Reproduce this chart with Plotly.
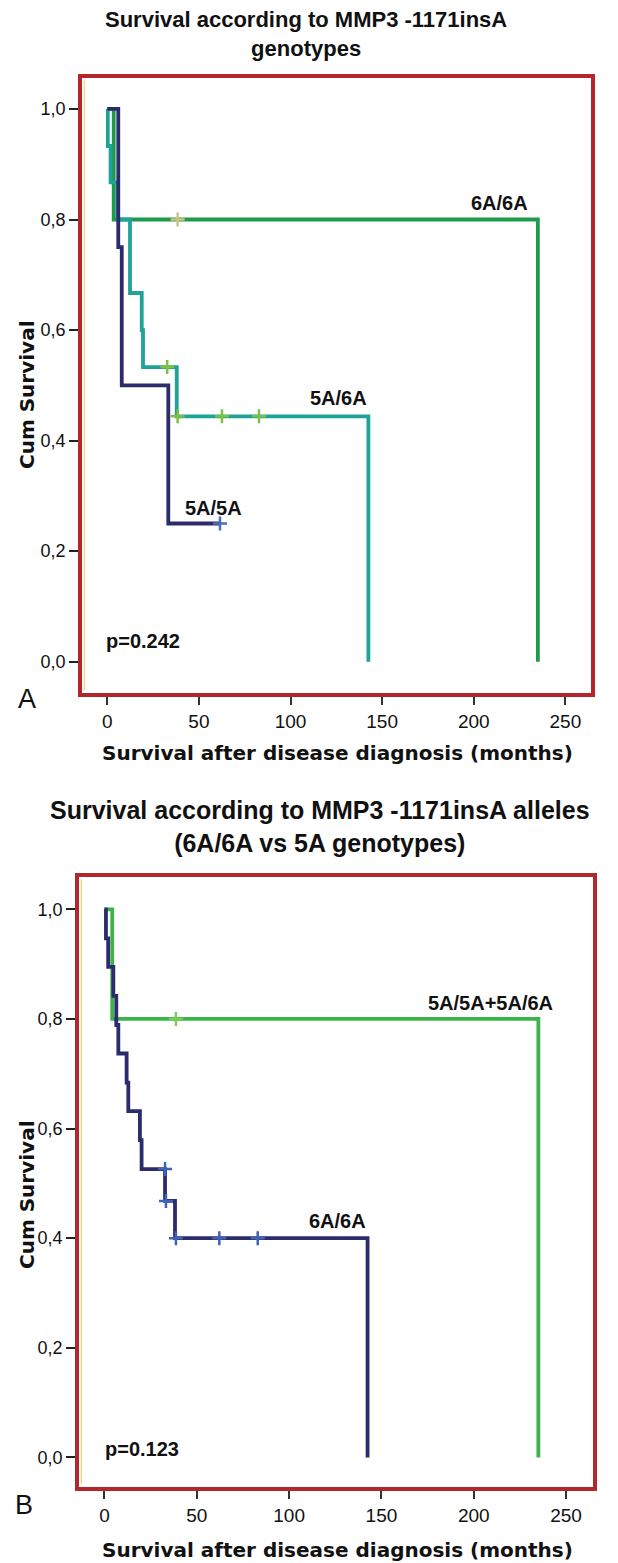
import plotly.graph_objects as go

# ---------------- data ----------------
# Panel A: MMP3 -1171insA genotypes
a_6a6a_t = [0, 3.5, 235]
a_6a6a_s = [1.0, 0.8, 0.0]
a_6a6a_cens_t = [38.4]
a_6a6a_cens_s = [0.8]

a_5a6a_t = [0, 0.3, 1.8, 5.5, 12.4, 18.8, 19.5, 37.9, 142.5]
a_5a6a_s = [1.0, 0.933, 0.867, 0.8, 0.667, 0.6, 0.533, 0.444, 0.0]
a_5a6a_cens_t = [32.7, 38.4, 62.6, 82.8]
a_5a6a_cens_s = [0.533, 0.444, 0.444, 0.444]

a_5a5a_t = [0, 6.0, 7.9, 33.3, 61.5]
a_5a5a_s = [1.0, 0.75, 0.5, 0.25, 0.25]
a_5a5a_cens_t = [61.5]
a_5a5a_cens_s = [0.25]

# Panel B: 6A/6A vs 5A genotypes
b_5a_t = [0, 4.2, 235]
b_5a_s = [1.0, 0.8, 0.0]
b_5a_cens_t = [38.7]
b_5a_cens_s = [0.8]

b_6a6a_t = [0, 0.8, 2.0, 4.8, 6.4, 7.5, 12.0, 12.9, 19.2, 20.1, 32.8, 38.2, 142.5]
b_6a6a_s = [1.0, 0.947, 0.895, 0.842, 0.789, 0.737, 0.684, 0.632, 0.579, 0.526, 0.468, 0.400, 0.0]
b_6a6a_cens_t = [32.8, 33.3, 38.7, 62.2, 83.0]
b_6a6a_cens_s = [0.526, 0.468, 0.4, 0.4, 0.4]

x_tickvals = [0, 50, 100, 150, 200, 250]
y_tickvals = [0.0, 0.2, 0.4, 0.6, 0.8, 1.0]
y_ticktext = ["0,0", "0,2", "0,4", "0,6", "0,8", "1,0"]

title_a = "Survival according to MMP3 -1171insA<br>genotypes"
title_b = "Survival according to MMP3 -1171insA alleles<br>(6A/6A vs 5A genotypes)"
x_title = "Survival after disease diagnosis (months)"
y_title = "Cum Survival"

# ---------------- styling ----------------
W, H = 618, 1563
FONT = "Liberation Sans, Arial, sans-serif"
WIDE = "DejaVu Sans, Verdana, sans-serif"
RED = "#b3262b"
GREEN_A = "#1f9a4a"
TEAL = "#1fa297"
NAVY = "#2c2b6c"
GREEN_B = "#3cb44a"


def px(x):
    return x / W


def py(y):
    return 1 - y / H


fig = go.Figure()


def step(xaxis, yaxis, t, s, color):
    fig.add_trace(go.Scatter(x=t, y=s, mode="lines", line=dict(color=color, width=3.8, shape="hv"),
                             xaxis=xaxis, yaxis=yaxis, showlegend=False, hoverinfo="skip"))


def cens(xaxis, yaxis, t, s, color):
    fig.add_trace(go.Scatter(x=t, y=s, mode="markers",
                             marker=dict(symbol="cross-thin", size=10, line=dict(color=color, width=2.5)),
                             xaxis=xaxis, yaxis=yaxis, showlegend=False, hoverinfo="skip"))


# Panel A (x, y)
step("x", "y", a_6a6a_t, a_6a6a_s, GREEN_A)
step("x", "y", a_5a6a_t, a_5a6a_s, TEAL)
step("x", "y", a_5a5a_t, a_5a5a_s, NAVY)
cens("x", "y", a_6a6a_cens_t, a_6a6a_cens_s, "#cfc48a")
cens("x", "y", a_5a6a_cens_t, a_5a6a_cens_s, "#7cc142")
cens("x", "y", a_5a5a_cens_t, a_5a5a_cens_s, "#4a6fb5")

# Panel B (x2, y2)
step("x2", "y2", b_5a_t, b_5a_s, GREEN_B)
step("x2", "y2", b_6a6a_t, b_6a6a_s, NAVY)
cens("x2", "y2", b_5a_cens_t, b_5a_cens_s, "#7ccc5b")
cens("x2", "y2", b_6a6a_cens_t, b_6a6a_cens_s, "#3d63b8")

common_x = dict(tickvals=x_tickvals, ticks="outside", ticklen=8, tickwidth=2, tickcolor="#333",
                showline=True, linecolor=RED, linewidth=3.5, mirror=True, showgrid=False,
                zeroline=False, tickfont=dict(family=FONT, size=19, color="#111"))
common_y = dict(tickvals=y_tickvals, ticktext=y_ticktext, ticks="outside", ticklen=9, tickwidth=2,
                tickcolor="#222", showline=True, linecolor=RED, linewidth=3.5, mirror=True,
                showgrid=False, zeroline=False, tickfont=dict(family=FONT, size=18, color="#111"))

fig.update_layout(
    width=W, height=H, margin=dict(l=0, r=0, t=0, b=0),
    paper_bgcolor="white", plot_bgcolor="white",
    xaxis=dict(domain=[px(82), px(591)], range=[-13.8, 264.0], anchor="y", **common_x),
    yaxis=dict(domain=[py(693), py(78)], range=[-0.0566, 1.056], anchor="x", **common_y),
    xaxis2=dict(domain=[px(79), px(593)], range=[-13.8, 264.6], anchor="y2", **common_x),
    yaxis2=dict(domain=[py(1487), py(877)], range=[-0.054, 1.059], anchor="x2", **common_y),
)

ann = []
bold = dict(color="#111", weight="bold")

# titles
ann.append(dict(text=title_a, x=px(306), y=py(34), xref="paper", yref="paper", showarrow=False,
                xanchor="center", yanchor="middle", font=dict(family=FONT, size=22, **bold)))
ann.append(dict(text=title_b, x=px(320), y=py(826), xref="paper", yref="paper", showarrow=False,
                xanchor="center", yanchor="middle", font=dict(family=FONT, size=25, **bold)))
# axis titles
for yx, yy in [(753, 395), (1550, 1195)]:
    ann.append(dict(text=x_title, x=px(337), y=py(yx), xref="paper", yref="paper", showarrow=False,
                    xanchor="center", yanchor="middle", font=dict(family=WIDE, size=20, **bold)))
    ann.append(dict(text=y_title, x=px(27), y=py(yy), xref="paper", yref="paper", showarrow=False,
                    xanchor="center", yanchor="middle", textangle=-90,
                    font=dict(family=WIDE, size=20, **bold)))
# panel letters
ann.append(dict(text="A", x=px(27), y=py(699), xref="paper", yref="paper", showarrow=False,
                xanchor="center", yanchor="middle", font=dict(family=FONT, size=27, color="#111")))
ann.append(dict(text="B", x=px(24), y=py(1505), xref="paper", yref="paper", showarrow=False,
                xanchor="center", yanchor="middle", font=dict(family=FONT, size=27, color="#111")))

# in-plot labels
lab = dict(family=FONT, size=20, **bold)
ann.append(dict(text="6A/6A", x=214, y=0.83, xref="x", yref="y", showarrow=False, font=lab))
ann.append(dict(text="5A/6A", x=126, y=0.477, xref="x", yref="y", showarrow=False, font=lab))
ann.append(dict(text="5A/5A", x=58, y=0.278, xref="x", yref="y", showarrow=False, font=lab))
ann.append(dict(text="p=0.242", x=19.5, y=0.037, xref="x", yref="y", showarrow=False, font=lab))
ann.append(dict(text="5A/5A+5A/6A", x=209, y=0.83, xref="x2", yref="y2", showarrow=False, font=lab))
ann.append(dict(text="6A/6A", x=126, y=0.432, xref="x2", yref="y2", showarrow=False, font=lab))
ann.append(dict(text="p=0.123", x=20.5, y=0.016, xref="x2", yref="y2", showarrow=False, font=lab))

fig.update_layout(annotations=ann)

# thin yellow inner line along the left frame edge (SPSS style)
for xa, ya in [("x domain", "y domain"), ("x2 domain", "y2 domain")]:
    fig.add_shape(type="line", xref=xa, yref=ya, x0=0.0045, x1=0.0045, y0=0.004, y1=0.996,
                  line=dict(color="#f3d36a", width=1.2))

fig.write_html("out.html")
